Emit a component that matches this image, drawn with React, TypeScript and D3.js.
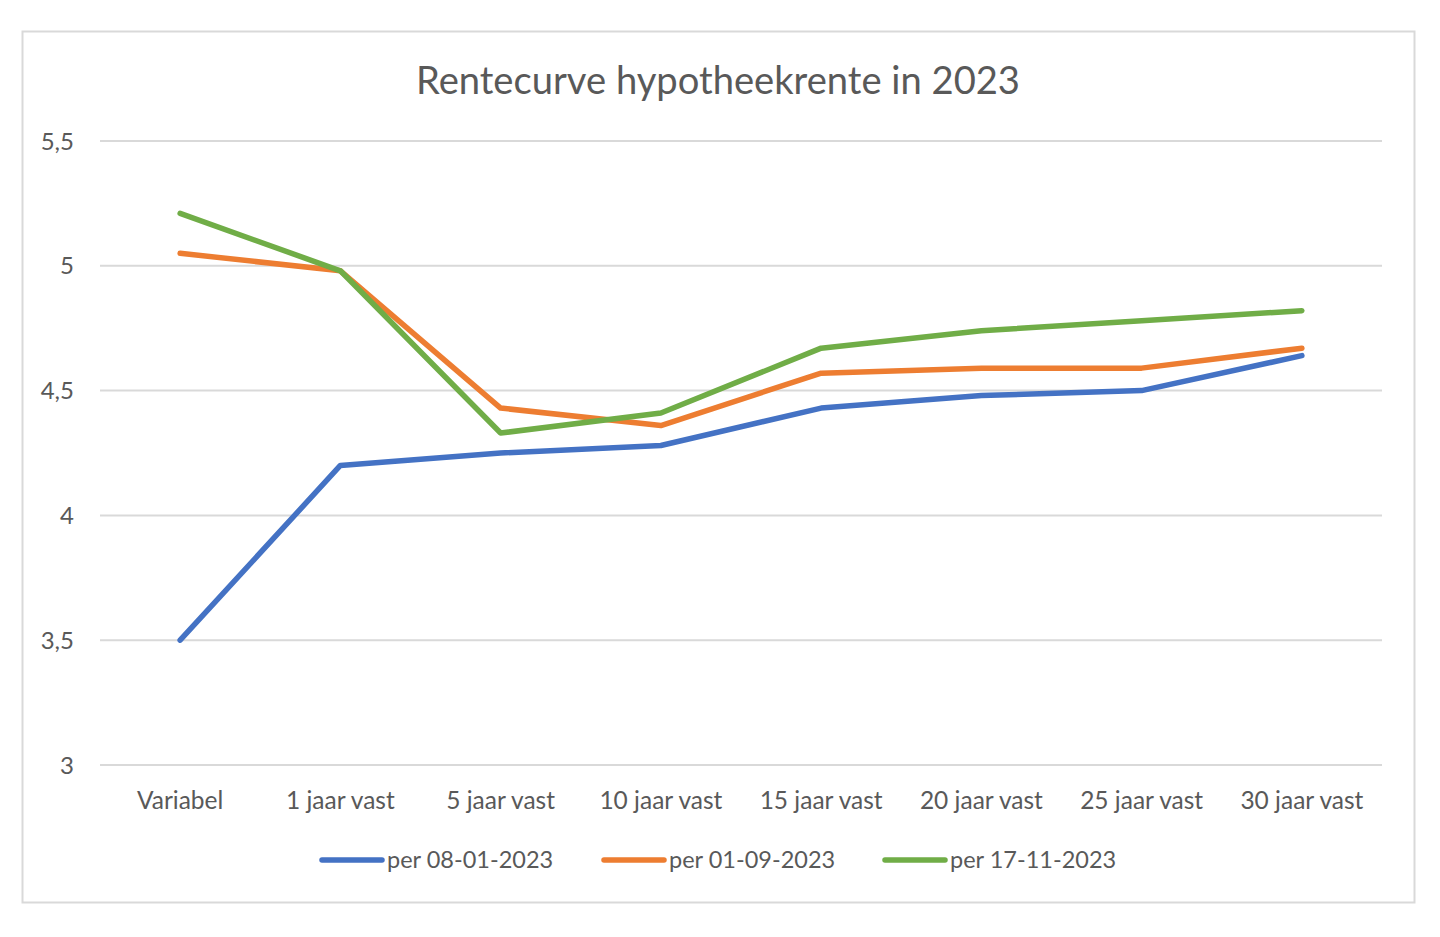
import React from "react";
import * as d3 from "d3";

const categories = ["Variabel", "1 jaar vast", "5 jaar vast", "10 jaar vast", "15 jaar vast", "20 jaar vast", "25 jaar vast", "30 jaar vast"];
const seriesNames = ["per 08-01-2023", "per 01-09-2023", "per 17-11-2023"];
const seriesColors = ["#4472c4", "#ed7d31", "#70ad47"];
const blueValues = [3.5, 4.2, 4.25, 4.28, 4.43, 4.48, 4.5, 4.64];
const orangeValues = [5.05, 4.98, 4.43, 4.36, 4.57, 4.59, 4.59, 4.67];
const greenValues = [5.21, 4.98, 4.33, 4.41, 4.67, 4.74, 4.78, 4.82];
const yTicks = [3, 3.5, 4, 4.5, 5, 5.5];
const title = "Rentecurve hypotheekrente in 2023";

export default function App() {
  const W = 1440, H = 937;
  const left = 100, right = 1382, top = 141, bottom = 765;
  const x = d3.scaleBand<string>().domain(categories).range([left, right]).padding(0);
  const y = d3.scaleLinear().domain([3, 5.5]).range([bottom, top]);
  const fmt = (v: number) => String(v).replace(".", ",");
  const line = d3.line<number>().x((_, i) => x(categories[i])! + x.bandwidth() / 2).y((d) => y(d));
  const all = [blueValues, orangeValues, greenValues];
  const font = "Lato, 'Open Sans', sans-serif";
  const legendX = [322, 604, 885];
  return (
    <svg width={W} height={H} style={{ position: "absolute", left: 0, top: 0 }} fontFamily={font}>
      <rect x={0} y={0} width={W} height={H} fill="#fff" />
      <rect x={22.5} y={31.5} width={1392} height={871} fill="#fff" stroke="#d9d9d9" strokeWidth={2} />
      <text x={718} y={94} textAnchor="middle" fontSize={38} fill="#595959" textLength={604} lengthAdjust="spacingAndGlyphs">{title}</text>
      {yTicks.map((t) => (
        <g key={t}>
          <line x1={left} x2={right} y1={y(t)} y2={y(t)} stroke="#d9d9d9" strokeWidth={2} />
          <text x={74} y={y(t) + 8.5} textAnchor="end" fontSize={24} fill="#595959">{fmt(t)}</text>
        </g>
      ))}
      {categories.map((c) => (
        <text key={c} x={x(c)! + x.bandwidth() / 2} y={809} textAnchor="middle" fontSize={24.5} fill="#595959">{c}</text>
      ))}
      {all.map((vals, i) => (
        <path key={i} d={line(vals)!} fill="none" stroke={seriesColors[i]} strokeWidth={5.5} strokeLinecap="round" strokeLinejoin="round" />
      ))}
      {seriesNames.map((n, i) => (
        <g key={n}>
          <line x1={legendX[i]} x2={legendX[i] + 60} y1={860} y2={860} stroke={seriesColors[i]} strokeWidth={5.5} strokeLinecap="round" />
          <text x={legendX[i] + 65} y={868} fontSize={23.5} fill="#595959">{n}</text>
        </g>
      ))}
    </svg>
  );
}
